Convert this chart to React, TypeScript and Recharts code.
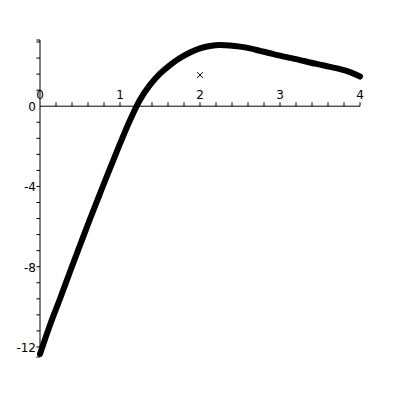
import React from "react";
import { LineChart, Line, XAxis, YAxis, ReferenceLine, Scatter } from "recharts";

const curveX = [0, 0.125, 0.25, 0.375, 0.5, 0.625, 0.75, 0.875, 1.0, 1.125, 1.25, 1.375, 1.5, 1.625, 1.75, 1.875, 2.0, 2.125, 2.25, 2.375, 2.5, 2.625, 2.75, 2.875, 3.0, 3.125, 3.25, 3.375, 3.5, 3.625, 3.75, 3.875, 4.0];
const curveY = [-12.35, -10.9, -9.6, -8.25, -6.93, -5.62, -4.35, -3.1, -1.87, -0.7, 0.32, 1.06, 1.62, 2.05, 2.4, 2.68, 2.88, 3.0, 3.05, 3.03, 2.97, 2.88, 2.76, 2.64, 2.52, 2.41, 2.3, 2.18, 2.07, 1.96, 1.85, 1.7, 1.48];

const markX = [2];
const markY = [1.55];

const xMinorTicks = [0.2, 0.4, 0.6, 0.8, 1.0, 1.2, 1.4, 1.6, 1.8, 2.0, 2.2, 2.4, 2.6, 2.8, 3.0, 3.2, 3.4, 3.6, 3.8, 4.0];
const yMinorTicks = [3.3, 3.2, 2.4, 1.6, 0.8, -0.8, -1.6, -2.4, -3.2, -4.0, -4.8, -5.6, -6.4, -7.2, -8.0, -8.8, -9.6, -10.4, -11.2, -12.0, -12.5];
const xTickLabels = [0, 1, 2, 3, 4];
const yTickLabels = [0, -4, -8, -12];

const X_DOMAIN: [number, number] = [0, 4];
const Y_DOMAIN: [number, number] = [-12.5, 3.3];

const curveData = curveX.map((x, i) => ({ x, y: curveY[i] }));
const markData = markX.map((x, i) => ({ x, y: markY[i] }));
const xLabelData = xTickLabels.map((v) => ({ x: v, y: 0, text: String(v) }));
const yLabelData = yTickLabels.map((v) => ({ x: 0, y: v, text: String(v) }));

const FONT = "'DejaVu Sans', sans-serif";

const XLabel = (props: any) => {
  const { cx, cy, payload } = props;
  return (
    <text x={cx} y={cy - 7} textAnchor="middle" fontFamily={FONT} fontSize={12} fill="#000">
      {payload.text}
    </text>
  );
};

const YLabel = (props: any) => {
  const { cx, cy, payload } = props;
  return (
    <text x={cx - 4} y={cy + 5} textAnchor="end" fontFamily={FONT} fontSize={12} fill="#000">
      {payload.text}
    </text>
  );
};

const Cross = (props: any) => {
  const { cx, cy } = props;
  const s = 3;
  return (
    <g stroke="#000" strokeWidth={1}>
      <line x1={cx - s} y1={cy - s} x2={cx + s} y2={cy + s} />
      <line x1={cx - s} y1={cy + s} x2={cx + s} y2={cy - s} />
    </g>
  );
};

export default function App() {
  return (
    <div style={{ position: "absolute", left: 0, top: 0, background: "#fff" }}>
      <LineChart width={400} height={400} margin={{ top: 40, right: 40, bottom: 43, left: 40 }}>
        <XAxis dataKey="x" type="number" domain={X_DOMAIN} hide />
        <YAxis dataKey="y" type="number" domain={Y_DOMAIN} hide />
        <ReferenceLine segment={[{ x: 0, y: 0 }, { x: 4, y: 0 }]} stroke="#000" strokeWidth={1} ifOverflow="visible" />
        <ReferenceLine segment={[{ x: 0, y: -12.5 }, { x: 0, y: 3.3 }]} stroke="#000" strokeWidth={1} ifOverflow="visible" />
        {xMinorTicks.map((t) => (
          <ReferenceLine key={"xt" + t} segment={[{ x: t, y: 0 }, { x: t, y: 0.2 }]} stroke="#000" strokeWidth={1} ifOverflow="visible" />
        ))}
        {yMinorTicks.map((t) => (
          <ReferenceLine key={"yt" + t} segment={[{ x: -0.045, y: t }, { x: 0, y: t }]} stroke="#000" strokeWidth={1} ifOverflow="visible" />
        ))}
        <Scatter data={xLabelData} dataKey="y" shape={<XLabel />} isAnimationActive={false} />
        <Scatter data={yLabelData} dataKey="y" shape={<YLabel />} isAnimationActive={false} />
        <Scatter data={markData} dataKey="y" shape={<Cross />} isAnimationActive={false} />
        <Line data={curveData} dataKey="y" type="monotone" stroke="#000" strokeWidth={6} strokeLinecap="round" strokeLinejoin="round" dot={false} isAnimationActive={false} />
      </LineChart>
    </div>
  );
}
